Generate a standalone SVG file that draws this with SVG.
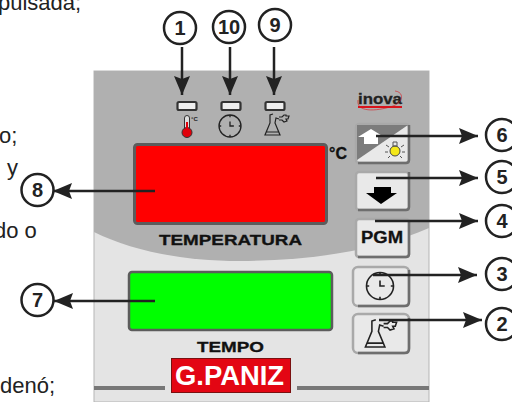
<svg xmlns="http://www.w3.org/2000/svg" width="512" height="402" viewBox="0 0 512 402">
<style>
text{font-family:"Liberation Sans",Arial,sans-serif;fill:#222}
.body{font-size:22px}
.num{font-size:20px;font-weight:bold;text-anchor:middle}
.lbl{font-weight:bold;fill:#111;stroke:#111;stroke-width:.3}
.ring{fill:#fff;stroke:#222;stroke-width:2.5}
.conn{stroke:#222;stroke-width:2.5;fill:none;marker-end:url(#ah)}
.led{fill:#eee;stroke:#333;stroke-width:2.2}
.btnb{fill:#e9e9e9;stroke:#a9a9a9;stroke-width:2.5}
.btns{fill:none;stroke:#6e6e6e;stroke-width:2.5}
.ico{fill:none;stroke:#222;stroke-width:1.2}
</style>
<defs>
<marker id="ah" markerUnits="userSpaceOnUse" markerWidth="20" markerHeight="18" refX="19" refY="9" orient="auto"><path d="M0 1L19 9L0 17L3 9z" fill="#222"/></marker>
<g id="clock"><circle r="10" class="ico"/><path class="ico" d="M0-4V0H3.5M0-10V-8M0 8V10M-10 0H-8M8 0H10" stroke-width="1.4"/></g>
<g id="flask"><path class="ico" d="M-4-11L-7-10V-2L-12 10H3L-2-2L-1-7L2-6M-11 7H2"/><path class="ico" d="M2-8H5L7-10H9V-9H12L11-6H9L10-4L7-3L5-5H2"/></g>
</defs>
<g id="page-text">
<text class="body" x="-2" y="10">pulsada;</text>
<text class="body" x="-1" y="143">o;</text>
<text class="body" x="7" y="175">y</text>
<text class="body" x="-6" y="238">do o</text>
<text class="body" x="0" y="393">denó;</text>
</g>
<g id="panel">
<rect x="94" y="71" width="335" height="331" fill="#e4e4e4" stroke="#b5b5b5"/>
<path d="M94 71H429V228C380 250 310 261 240 261C180 261 130 250 94 232Z" fill="#b0b0b0"/>
<path d="M94 388H165M297 388H429" stroke="#777" stroke-width="4"/>
</g>
<g id="display-temp">
<rect x="134.500" y="144.500" width="192" height="79" rx="3" fill="#f00" stroke="#5c5c5c" stroke-width="3"/>
<text class="lbl" x="159" y="245" font-size="14.500" textLength="143" lengthAdjust="spacingAndGlyphs">TEMPERATURA</text>
<text class="lbl" x="329" y="159" font-size="16">°C</text>
</g>
<g id="display-time">
<rect x="129" y="272" width="203" height="58" rx="3" fill="#0f0" stroke="#5c5c5c" stroke-width="2.500"/>
<text class="lbl" x="197" y="352" font-size="14.500" textLength="67" lengthAdjust="spacingAndGlyphs">TEMPO</text>
</g>
<g id="logo-gpaniz">
<rect x="171.500" y="358.500" width="119" height="34" fill="#e30613" stroke="#7a1010"/>
<text x="175" y="385" font-size="27" font-weight="bold" textLength="109" lengthAdjust="spacingAndGlyphs" style="fill:#fff">G.PANIZ</text>
</g>
<g id="logo-inova">
<text x="358" y="104" font-size="15" font-weight="bold" textLength="44" lengthAdjust="spacingAndGlyphs" stroke="#222" stroke-width=".3">inova</text>
<path d="M358 107H402" stroke="#d8141c" stroke-width="1.800"/>
<path d="M358 100C356 112 375 112 393 106C404 102 404 92 395 91" fill="none" stroke="#d8141c" stroke-width=".6"/>
</g>
<g id="led-temp">
<rect class="led" x="177.500" y="102" width="19" height="8" rx="1.500"/>
<path d="M184.500 130V118a2.500 2.500 0 0 1 5 0V130" fill="#ddd" stroke="#333"/>
<circle cx="187" cy="132.500" r="5" fill="#e0000b" stroke="#333"/>
<rect x="186" y="122" width="2" height="8" fill="#e0000b"/>
<text x="191" y="121" font-size="6" font-weight="bold">°C</text>
</g>
<g id="led-time">
<rect class="led" x="221.500" y="102" width="19" height="8" rx="1.500"/>
<use href="#clock" transform="translate(230 126) scale(1.100)"/>
</g>
<g id="led-horn">
<rect class="led" x="265.500" y="102" width="19" height="8" rx="1.500"/>
<use href="#flask" transform="translate(277 125)"/>
</g>
<g id="btn-up">
<rect class="btnb" x="356" y="124" width="53" height="39" rx="3"/>
<path d="M357 125H408L357 160Z" fill="#7c7c7c"/>
<path d="M371 129L358 137H364V144H378V137H384Z" fill="#fff"/>
<circle cx="395" cy="151" r="5" fill="#f4e81a" stroke="#444"/>
<path d="M393 142H397V146H393ZM386 145L389 147M404 145L401 147M385 152H388M405 152H402M388 158L390 156M402 158L400 156" stroke="#555" fill="none"/>
<path class="btns" d="M409 125V160Q409 163 406 163H358"/>
</g>
<g id="btn-down">
<rect class="btnb" x="356" y="172" width="53" height="38" rx="3" stroke="#e9e9e9"/>
<path d="M374 187H391V193H397L381 204L366 193H374Z" fill="#000"/>
<path class="btns" d="M409 172V207Q409 210 406 210H358"/>
</g>
<g id="btn-pgm">
<rect class="btnb" x="356" y="219" width="53" height="38" rx="3" stroke="#e9e9e9"/>
<text class="lbl" x="361" y="243" font-size="16" textLength="42" lengthAdjust="spacingAndGlyphs">PGM</text>
<path class="btns" d="M409 220V254Q409 257 406 257H358"/>
</g>
<g id="btn-clock">
<rect class="btnb" x="353" y="267" width="56" height="39" rx="5"/>
<use href="#clock" transform="translate(380 286) scale(1.350)"/>
<path class="btns" d="M409 270V302Q409 306 405 306H358"/>
</g>
<g id="btn-horn">
<rect class="btnb" x="353" y="314" width="56" height="39" rx="5"/>
<use href="#flask" transform="translate(381 334) scale(1.300)"/>
<path class="btns" d="M409 318V349Q409 353 405 353H358"/>
</g>
<g id="connectors">
<line class="conn" x1="182" y1="47" x2="182" y2="95"/>
<line class="conn" x1="230" y1="47" x2="230" y2="95"/>
<line class="conn" x1="274" y1="47" x2="274" y2="95"/>
<line class="conn" x1="155" y1="191" x2="53" y2="191"/>
<line class="conn" x1="155" y1="301" x2="54" y2="301"/>
<line class="conn" x1="376" y1="136" x2="478" y2="136"/>
<line class="conn" x1="376" y1="178" x2="478" y2="178"/>
<line class="conn" x1="375" y1="221" x2="478" y2="221"/>
<line class="conn" x1="373" y1="275" x2="477" y2="275"/>
<line class="conn" x1="379" y1="320" x2="482" y2="320"/>
</g>
<g id="n1"><circle class="ring" cx="180" cy="28" r="16"/><text class="num" x="180" y="35">1</text></g>
<g id="n10"><circle class="ring" cx="229" cy="27" r="16"/><text class="num" x="229" y="34">10</text></g>
<g id="n9"><circle class="ring" cx="275" cy="25" r="16"/><text class="num" x="275" y="32">9</text></g>
<g id="n8"><circle class="ring" cx="37.500" cy="190" r="16"/><text class="num" x="37.500" y="197">8</text></g>
<g id="n7"><circle class="ring" cx="37.500" cy="300" r="16"/><text class="num" x="37.500" y="307">7</text></g>
<g id="n6"><circle class="ring" cx="502" cy="135" r="16"/><text class="num" x="502" y="142">6</text></g>
<g id="n5"><circle class="ring" cx="502" cy="177" r="16"/><text class="num" x="502" y="184">5</text></g>
<g id="n4"><circle class="ring" cx="502" cy="221" r="16"/><text class="num" x="502" y="228">4</text></g>
<g id="n3"><circle class="ring" cx="502" cy="274" r="16"/><text class="num" x="502" y="281">3</text></g>
<g id="n2"><circle class="ring" cx="502" cy="324" r="16"/><text class="num" x="502" y="331">2</text></g>
</svg>
